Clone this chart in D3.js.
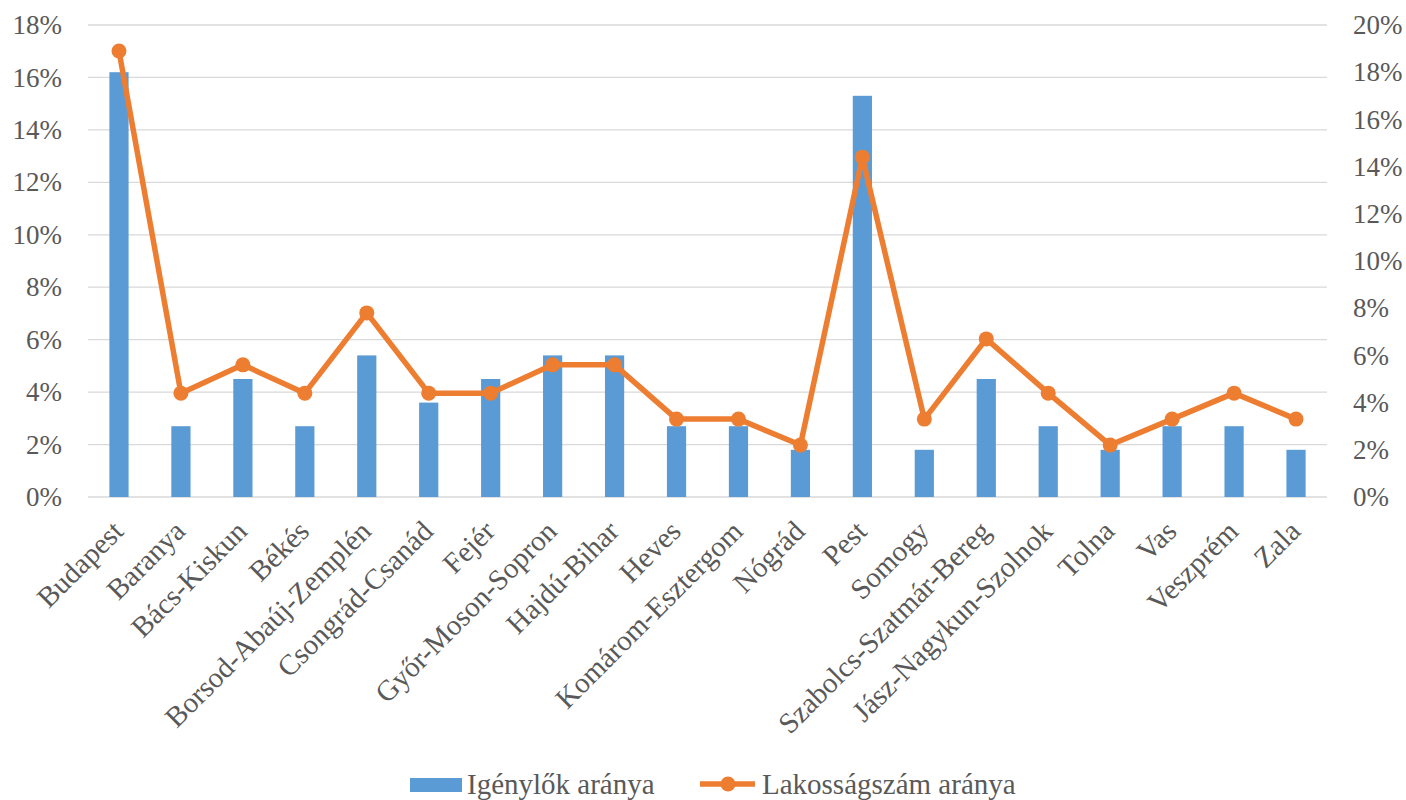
<!DOCTYPE html>
<html>
<head>
<meta charset="utf-8">
<script src="https://cdn.jsdelivr.net/npm/d3@7"></script>
<style>
  body { margin: 0; background: #fff; }
</style>
</head>
<body>
<svg id="chart" width="1406" height="800"></svg>
<script>
// megyék
const categories = ['Budapest', 'Baranya', 'Bács-Kiskun', 'Békés', 'Borsod-Abaúj-Zemplén',
  'Csongrád-Csanád', 'Fejér', 'Győr-Moson-Sopron', 'Hajdú-Bihar', 'Heves', 'Komárom-Esztergom',
  'Nógrád', 'Pest', 'Somogy', 'Szabolcs-Szatmár-Bereg', 'Jász-Nagykun-Szolnok', 'Tolna', 'Vas',
  'Veszprém', 'Zala'];
// Igénylők aránya (bal tengely, %)
const igenylok = [16.2, 2.7, 4.5, 2.7, 5.4, 3.6, 4.5, 5.4, 5.4, 2.7, 2.7, 1.8, 15.3, 1.8, 4.5, 2.7, 1.8, 2.7, 2.7, 1.8];
// Lakosságszám aránya (jobb tengely, %)
const lakossag = [18.9, 4.4, 5.6, 4.4, 7.8, 4.4, 4.4, 5.6, 5.6, 3.3, 3.3, 2.2, 14.4, 3.3, 6.7, 4.4, 2.2, 3.3, 4.4, 3.3];
const leftTicks = [0, 2, 4, 6, 8, 10, 12, 14, 16, 18];
const rightTicks = [0, 2, 4, 6, 8, 10, 12, 14, 16, 18, 20];
const seriesNames = ['Igénylők aránya', 'Lakosságszám aránya'];

const blue = '#5B9BD5', orange = '#ED7D31', grey = '#595959';
const font = "'Liberation Serif', 'Times New Roman', Times, serif";
const margin = { top: 25, left: 88, right: 79, bottom: 303 };
const width = 1406, height = 800;

const svg = d3.select('#chart');
const g = svg.append('g');

const x = d3.scaleBand()
  .domain(categories)
  .range([margin.left, width - margin.right])
  .paddingInner(0.69)
  .paddingOuter(0.345);
const yL = d3.scaleLinear().domain([0, 18]).range([height - margin.bottom, margin.top]);
const yR = d3.scaleLinear().domain([0, 20]).range([height - margin.bottom, margin.top]);

// gridlines
g.append('g')
  .selectAll('line')
  .data(leftTicks)
  .enter()
  .append('line')
  .attr('x1', margin.left)
  .attr('x2', width - margin.right)
  .attr('y1', (d) => yL(d))
  .attr('y2', (d) => yL(d))
  .attr('stroke', '#d9d9d9')
  .attr('stroke-width', 1.3);

// left axis
const leftAxis = g.append('g')
  .attr('transform', 'translate(' + margin.left + ',0)')
  .call(d3.axisLeft(yL).tickValues(leftTicks).tickSize(0).tickPadding(26).tickFormat((d) => d + '%'));
leftAxis.attr('font-family', null).attr('font-size', null);
leftAxis.select('.domain').remove();
leftAxis.selectAll('text')
  .style('font-family', font).style('font-size', '27px').attr('fill', grey);

// right axis
const rightAxis = g.append('g')
  .attr('transform', 'translate(' + (width - margin.right) + ',0)')
  .call(d3.axisRight(yR).tickValues(rightTicks).tickSize(0).tickPadding(26).tickFormat((d) => d + '%'));
rightAxis.attr('font-family', null).attr('font-size', null);
rightAxis.select('.domain').remove();
rightAxis.selectAll('text')
  .style('font-family', font).style('font-size', '27px').attr('fill', grey);

// bars
g.append('g')
  .selectAll('rect')
  .data(igenylok)
  .enter()
  .append('rect')
  .attr('x', (d, i) => x(categories[i]))
  .attr('width', x.bandwidth())
  .attr('y', (d) => yL(d))
  .attr('height', (d) => yL(0) - yL(d))
  .attr('fill', blue);

// line + markers
const cx = (i) => x(categories[i]) + x.bandwidth() / 2;
const line = d3.line()
  .x((d, i) => cx(i))
  .y((d) => yR(d));
g.append('path')
  .datum(lakossag)
  .attr('d', line)
  .attr('fill', 'none')
  .attr('stroke', orange)
  .attr('stroke-width', 5.5)
  .attr('stroke-linejoin', 'round');
g.append('g')
  .selectAll('circle')
  .data(lakossag)
  .enter()
  .append('circle')
  .attr('cx', (d, i) => cx(i))
  .attr('cy', (d) => yR(d))
  .attr('r', 7.5)
  .attr('fill', orange);

// category labels, rotated -45
g.append('g')
  .selectAll('text')
  .data(categories)
  .enter()
  .append('text')
  .attr('transform', (d) => 'translate(' + (x(d) + x.bandwidth() / 2 + 6) + ',' + (yL(0) + 36) + ') rotate(-45)')
  .attr('text-anchor', 'end')
  .style('font-family', font)
  .style('font-size', '29px')
  .attr('fill', grey)
  .text((d) => d);

// legend
const legend = g.append('g');
legend.append('rect')
  .attr('x', 410).attr('y', 778).attr('width', 52).attr('height', 14)
  .attr('fill', blue);
legend.append('text')
  .attr('x', 467).attr('y', 794)
  .style('font-family', font).style('font-size', '29px').attr('fill', grey)
  .text(seriesNames[0]);
legend.append('line')
  .attr('x1', 700).attr('x2', 755).attr('y1', 784).attr('y2', 784)
  .attr('stroke', orange).attr('stroke-width', 5.5);
legend.append('circle')
  .attr('cx', 728).attr('cy', 784).attr('r', 7.5)
  .attr('fill', orange);
legend.append('text')
  .attr('x', 762).attr('y', 794)
  .style('font-family', font).style('font-size', '29px').attr('fill', grey)
  .text(seriesNames[1]);
</script>
</body>
</html>
